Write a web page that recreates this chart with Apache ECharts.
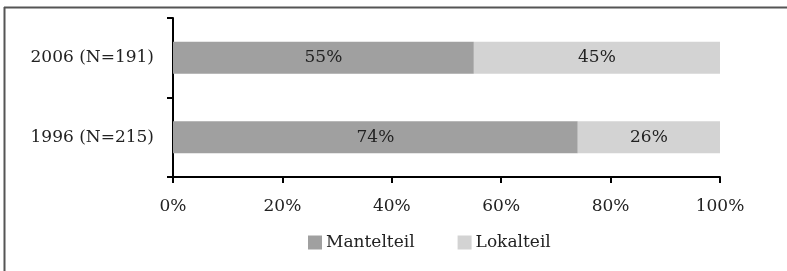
<!DOCTYPE html>
<html>
<head>
<meta charset="utf-8">
<script src="https://cdn.jsdelivr.net/npm/echarts@6/dist/echarts.min.js"></script>
<style>
html, body { margin: 0; padding: 0; background: #fff; }
#main { width: 787px; height: 271px; }
</style>
</head>
<body>
<div id="main"></div>
<script>
// Kategorien (von unten nach oben)
var categories = ['1996 (N=215)', '2006 (N=191)'];
var mantelteil = [74, 55];
var lokalteil = [26, 45];
var xTicks = [0, 20, 40, 60, 80, 100];

var font = 'DejaVu Serif';
var fs = 17;

var myChart = echarts.init(document.getElementById('main'));
var option = {
    animation: false,
    textStyle: { fontFamily: font },
    grid: { left: 173, right: 67, top: 18, bottom: 94 },
    xAxis: {
        type: 'value',
        min: 0,
        max: 100,
        interval: 20,
        axisLine: { show: true, lineStyle: { color: '#000', width: 2 } },
        axisTick: { show: true, length: 6, lineStyle: { color: '#000', width: 2 } },
        splitLine: { show: false },
        axisLabel: {
            color: '#222', fontSize: fs, fontFamily: font, margin: 21,
            formatter: function (v) { return xTicks.indexOf(v) >= 0 ? v + '%' : ''; }
        }
    },
    yAxis: {
        type: 'category',
        data: categories,
        axisLine: { show: true, lineStyle: { color: '#000', width: 2 } },
        axisTick: { show: true, length: 6, lineStyle: { color: '#000', width: 2 } },
        axisLabel: { color: '#222', fontSize: fs, fontFamily: font, margin: 19 }
    },
    legend: {
        top: 229,
        left: 303,
        itemWidth: 14,
        itemHeight: 14,
        itemGap: 43,
        icon: 'rect',
        textStyle: { color: '#222', fontSize: fs, fontFamily: font, padding: [0, 0, 0, -1] },
        data: ['Mantelteil', 'Lokalteil']
    },
    series: [
        {
            name: 'Mantelteil',
            type: 'bar',
            stack: 'all',
            barWidth: '40%',
            data: mantelteil,
            itemStyle: { color: '#a0a0a0' },
            label: { show: true, position: 'inside', color: '#222', fontSize: fs, fontFamily: font, formatter: '{c}%' }
        },
        {
            name: 'Lokalteil',
            type: 'bar',
            stack: 'all',
            barWidth: '40%',
            data: lokalteil,
            itemStyle: { color: '#d3d3d3' },
            label: { show: true, position: 'inside', color: '#222', fontSize: fs, fontFamily: font, formatter: '{c}%' }
        }
    ],
    graphic: [
        { type: 'line', shape: { x1: 4.5, y1: 7, x2: 4.5, y2: 271 }, style: { stroke: '#555', lineWidth: 2 } },
        { type: 'line', shape: { x1: 4, y1: 7.5, x2: 787, y2: 7.5 }, style: { stroke: '#555', lineWidth: 2 } }
    ]
};
myChart.setOption(option);
</script>
</body>
</html>
